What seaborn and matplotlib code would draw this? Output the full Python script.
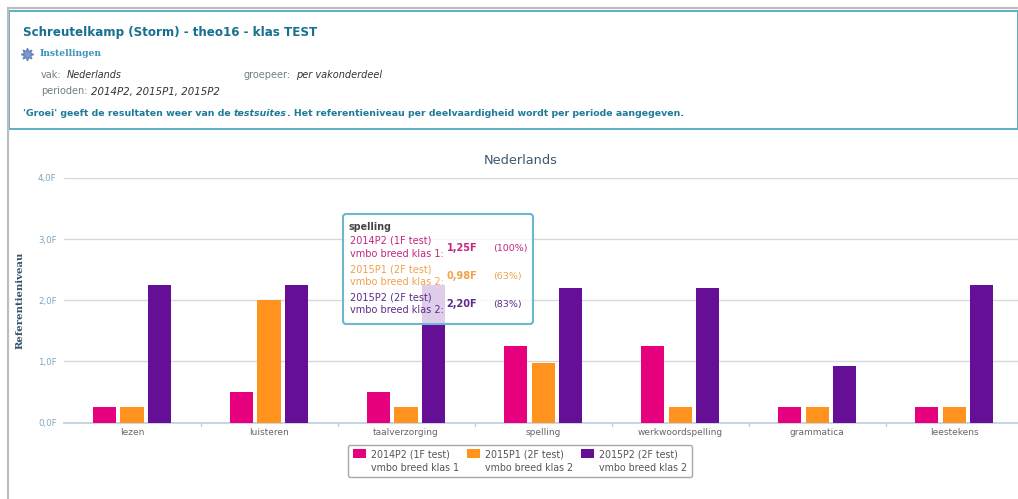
import matplotlib
matplotlib.use("Agg")
import matplotlib.pyplot as plt
from matplotlib.patches import FancyBboxPatch, Rectangle
from matplotlib.lines import Line2D
import pandas as pd
import seaborn as sns

categories = ["lezen", "luisteren", "taalverzorging", "spelling",
              "werkwoordspelling", "grammatica", "leestekens"]
series_names = ["2014P2 (1F test)\nvmbo breed klas 1",
                "2015P1 (2F test)\nvmbo breed klas 2",
                "2015P2 (2F test)\nvmbo breed klas 2"]
values_2014p2 = [0.25, 0.50, 0.50, 1.25, 1.25, 0.25, 0.25]
values_2015p1 = [0.25, 2.00, 0.25, 0.98, 0.25, 0.25, 0.25]
values_2015p2 = [2.25, 2.25, 2.25, 2.20, 2.20, 0.93, 2.25]
colors = ["#E6007E", "#FF931E", "#640F96"]
y_ticks = [0, 1, 2, 3, 4]
y_tick_labels = ["0,0F", "1,0F", "2,0F", "3,0F", "4,0F"]

W, H = 1018, 499
sns.set_theme(style="white")
plt.rcParams["font.family"] = ["DejaVu Sans"]

df = pd.DataFrame({
    "categorie": categories * 3,
    "reeks": sum([[s] * len(categories) for s in series_names], []),
    "waarde": values_2014p2 + values_2015p1 + values_2015p2,
})

fig = plt.figure(figsize=(W / 100, H / 100), dpi=100, facecolor="white")


def fx(x):
    return x / W


def fy(y):
    return 1 - y / H


ax = fig.add_axes([fx(63.5), fy(422.5), (1018 - 63.5) / W, (422.5 - 178) / H])
sns.barplot(data=df, x="categorie", y="waarde", hue="reeks", order=categories,
            hue_order=series_names, palette=colors, width=0.6, gap=0.16,
            saturation=1, ax=ax, zorder=3, legend=True, linewidth=0)
ax.set_xlim(-0.5, 6.467)
ax.set_ylim(0, 4)
ax.set_yticks(y_ticks)
ax.set_yticklabels(y_tick_labels, color="#7FA6BE", fontsize=6.2)
ax.yaxis.grid(True, color="#D8D8DC", lw=1)
ax.set_axisbelow(True)
for s in ax.spines.values():
    s.set_visible(False)
ax.spines["bottom"].set_visible(True)
ax.spines["bottom"].set_color("#C0D0E0")
ax.set_xlabel("")
ax.set_ylabel("Referentieniveau", fontsize=7.3, fontweight="bold",
              family="DejaVu Serif", color="#33506E", labelpad=0)
ax.yaxis.set_label_coords(-(63.5 - 25) / (1018 - 63.5), 0.5)
ax.tick_params(axis="y", length=0, pad=5)
ax.tick_params(axis="x", length=0, pad=4, labelsize=6.5, labelcolor="#666666")
for x in [i - 0.5 for i in range(1, 7)]:
    ax.plot([x, x], [0, -0.06], color="#C0D0E0", lw=1, clip_on=False, zorder=2)
fig.text(fx(521), fy(160), "Nederlands", ha="center", va="center", fontsize=9.3,
         color="#3E576F")

# legend
handles, labels = ax.get_legend_handles_labels()
ax.get_legend().remove()
leg = fig.legend(handles, labels, ncol=3, loc="center", bbox_to_anchor=(fx(520), fy(461)),
                 fontsize=6.85, frameon=True, fancybox=True, edgecolor="#A8A8A8",
                 facecolor="white", framealpha=1, handlelength=1.37, handleheight=1.1,
                 handletextpad=0.5, columnspacing=0.85, borderpad=0.5, labelspacing=0,
                 labelcolor="#555555")
leg.get_frame().set_linewidth(1)
for t in leg.get_texts():
    t.set_linespacing(1.4)
for h in leg.legend_handles:
    h.set_y(h.get_y() + 6)


# page chrome
def text(x, y, s, **kw):
    kw.setdefault("va", "center")
    return fig.text(fx(x), fy(y), s, **kw)


fig.add_artist(Line2D([fx(8), fx(8)], [fy(8), 0], color="#BDBDBD", lw=1.6))
fig.add_artist(Line2D([fx(8), 1], [fy(8), fy(8)], color="#BDBDBD", lw=1.6))
fig.add_artist(Rectangle((fx(9), fy(129)), (W - 9) / W, 118 / H, transform=fig.transFigure,
                         facecolor="white", edgecolor="#5FAFC4", lw=1.4))

teal = "#1F7A99"
text(23, 32.5, "Schreutelkamp (Storm) - theo16 - klas TEST", fontsize=8.55,
     fontweight="bold", color="#17708F")
fig.add_artist(Line2D([fx(27)], [fy(53.5)], marker=(8, 1, 0), ms=9, color="#7E9BD0",
                      mec="#6C86BC", lw=0))
text(39.5, 54, "Instellingen", fontsize=6.6, fontweight="bold",
     family="DejaVu Serif", color="#3E93BA")
grey = "#6F7F85"
dark = "#333333"
text(41, 75.5, "vak:", fontsize=7.0, color=grey)
text(67, 75.5, "Nederlands", fontsize=6.9, style="italic", color=dark)
text(244, 75.5, "groepeer:", fontsize=7.0, color=grey)
text(296.5, 75.5, "per vakonderdeel", fontsize=7.0, style="italic", color=dark)
text(41, 91.5, "perioden:", fontsize=7.0, color=grey)
text(91, 91.5, "2014P2, 2015P1, 2015P2", fontsize=7.25, style="italic", color=dark)
t1 = text(23, 114, "'Groei' geeft de resultaten weer van de ", fontsize=6.78,
          fontweight="bold", color=teal)
fig.canvas.draw()
bb = t1.get_window_extent()
t2 = text(bb.x1, 114, "testsuites", fontsize=6.78, fontweight="bold", style="italic", color=teal)
bb = t2.get_window_extent()
text(bb.x1, 114, ". Het referentieniveau per deelvaardigheid wordt per periode aangegeven.",
     fontsize=6.78, fontweight="bold", color=teal)

# tooltip
fig.add_artist(FancyBboxPatch((fx(343), fy(324)), 190 / W, 110 / H,
                              boxstyle="round,pad=0,rounding_size=0.003",
                              transform=fig.transFigure, facecolor=(1, 1, 1, 0.8),
                              edgecolor="#6FB7CC", lw=1.5, mutation_aspect=W / H))
tip = [("2014P2 (1F test)", "vmbo breed klas 1:", "1,25F", "(100%)", "#C4267F", 241, 254),
       ("2015P1 (2F test)", "vmbo breed klas 2:", "0,98F", "(63%)", "#F0A24C", 269, 282),
       ("2015P2 (2F test)", "vmbo breed klas 2:", "2,20F", "(83%)", "#5B2D8A", 297, 310)]
text(348.5, 227, "spelling", fontsize=6.9, fontweight="bold", color="#444444")
for a, b, v, p, c, y1, y2 in tip:
    text(350.5, y1, a, fontsize=7.0, color=c)
    text(350.5, y2, b, fontsize=7.0, color=c)
    text(446.5, (y1 + y2) / 2 + 0.5, v, fontsize=7.0, fontweight="bold", color=c)
    text(493.5, (y1 + y2) / 2 + 0.5, p, fontsize=6.8, color=c)

fig.savefig("out.png", dpi=100)
